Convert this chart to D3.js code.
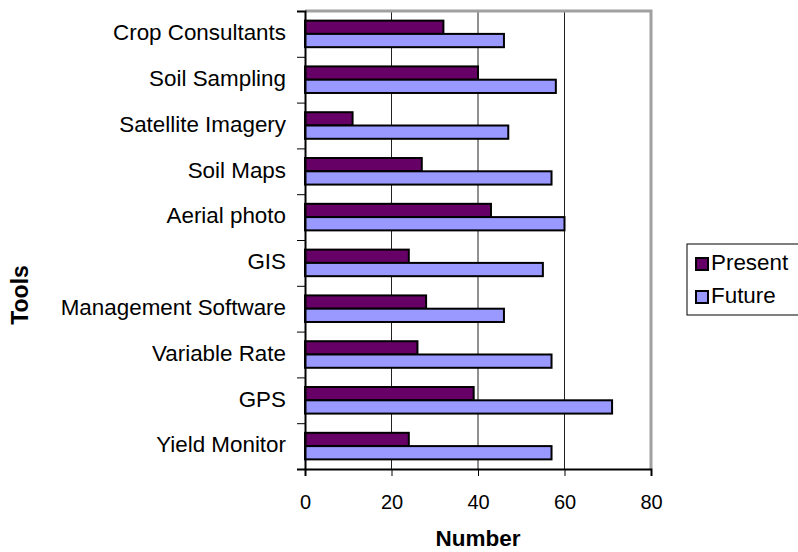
<!DOCTYPE html>
<html>
<head>
<meta charset="utf-8">
<script src="https://cdn.jsdelivr.net/npm/d3@7"></script>
<style>
body { margin: 0; background: #fff; }
text { font-family: "Liberation Sans", Arial, sans-serif; fill: #000; }
</style>
</head>
<body>
<svg></svg>
<script>
// =============================================== DATA =======================================================
var categories = ["Crop Consultants", "Soil Sampling", "Satellite Imagery", "Soil Maps", "Aerial photo",
    "GIS", "Management Software", "Variable Rate", "GPS", "Yield Monitor"];
var series = ["Present", "Future"];
var present = [32, 40, 11, 27, 43, 24, 28, 26, 39, 24];
var future = [46, 58, 47, 57, 60, 55, 46, 57, 71, 57];
var xTicks = [0, 20, 40, 60, 80];
// ============================================================================================================

var width = 798;
var height = 552;
// plot box (window.top is reserved, so p* names)
var pLeft = 305, pRight = 651, pTop = 11, pBottom = 469;
var colors = {Present: "#660066", Future: "#9999ff"};

var rows = categories.map(function(c, i) {
    return {cat: c, values: [{key: "Present", v: present[i]}, {key: "Future", v: future[i]}]};
});

var xs = d3.scaleLinear().domain([0, 80]).range([pLeft, pRight]);
var ys = d3.scaleBand().domain(categories).range([pTop, pBottom]).paddingInner(0.42).paddingOuter(0.21);
var ys2 = d3.scaleBand().domain(series).range([0, ys.bandwidth()]);
var yEdge = d3.scaleLinear().domain([0, categories.length]).range([pTop, pBottom]);

var svg = d3.select("svg").attr("width", width).attr("height", height);

// ============================================ GRID + FRAME ====================================================
svg.append("g").selectAll("line")
    .data(xTicks.slice(1, -1))
    .enter()
    .append("line")
    .attr("x1", d => xs(d)).attr("x2", d => xs(d))
    .attr("y1", pTop).attr("y2", pBottom)
    .attr("stroke", "#222").attr("stroke-width", 1);

svg.append("path")
    .attr("d", "M" + pLeft + "," + pTop + "H" + pRight + "V" + pBottom)
    .attr("fill", "none").attr("stroke", "#a0a0a0").attr("stroke-width", 3);

// ============================================ BARS ===========================================================
svg.append("g").selectAll("g")
    .data(rows)
    .enter()
    .append("g")
    .attr("transform", d => "translate(0," + ys(d.cat) + ")")
    .selectAll("rect")
    .data(d => d.values)
    .enter()
    .append("rect")
    .attr("x", xs(0))
    .attr("y", d => ys2(d.key))
    .attr("width", d => xs(d.v) - xs(0))
    .attr("height", ys2.bandwidth())
    .attr("fill", d => colors[d.key])
    .attr("stroke", "#000")
    .attr("stroke-width", 2);

// ============================================ AXES ===========================================================
var yAxis = svg.append("g")
    .attr("transform", "translate(" + pLeft + ",0)")
    .call(d3.axisLeft(yEdge).ticks(categories.length).tickFormat("").tickSize(8));
yAxis.select(".domain").attr("stroke-width", 2);

var yLabels = svg.append("g")
    .attr("transform", "translate(" + pLeft + ",0)")
    .call(d3.axisLeft(ys).tickSize(0).tickPadding(19));
yLabels.select(".domain").remove();
yLabels.selectAll("text").style("font-size", "22.4px").attr("dy", "0.28em");

var xAxis = svg.append("g")
    .attr("transform", "translate(0," + pBottom + ")")
    .call(d3.axisBottom(xs).tickValues(xTicks).tickSize(7).tickPadding(19));
xAxis.select(".domain").attr("stroke-width", 2);
xAxis.selectAll("text").style("font-size", "20px");

svg.append("text")
    .attr("x", (pLeft + pRight) / 2)
    .attr("y", 546)
    .attr("text-anchor", "middle")
    .style("font-size", "22.5px").style("font-weight", "bold")
    .text("Number");

svg.append("text")
    .attr("transform", "translate(28,295)rotate(-90)")
    .attr("text-anchor", "middle")
    .style("font-size", "23px").style("font-weight", "bold")
    .text("Tools");

// ============================================ LEGEND =========================================================
svg.append("rect")
    .attr("x", 687).attr("y", 244).attr("width", 130).attr("height", 71)
    .attr("fill", "#fff").attr("stroke", "#000").attr("stroke-width", 1);

var leg = svg.append("g").selectAll("g")
    .data(series)
    .enter()
    .append("g")
    .attr("transform", (d, i) => "translate(696," + (258 + i * 33) + ")");
leg.append("rect")
    .attr("width", 12).attr("height", 12)
    .attr("fill", d => colors[d]).attr("stroke", "#000").attr("stroke-width", 2);
leg.append("text")
    .attr("x", 15).attr("y", 12)
    .style("font-size", "22.4px")
    .text(d => d);
</script>
</body>
</html>
